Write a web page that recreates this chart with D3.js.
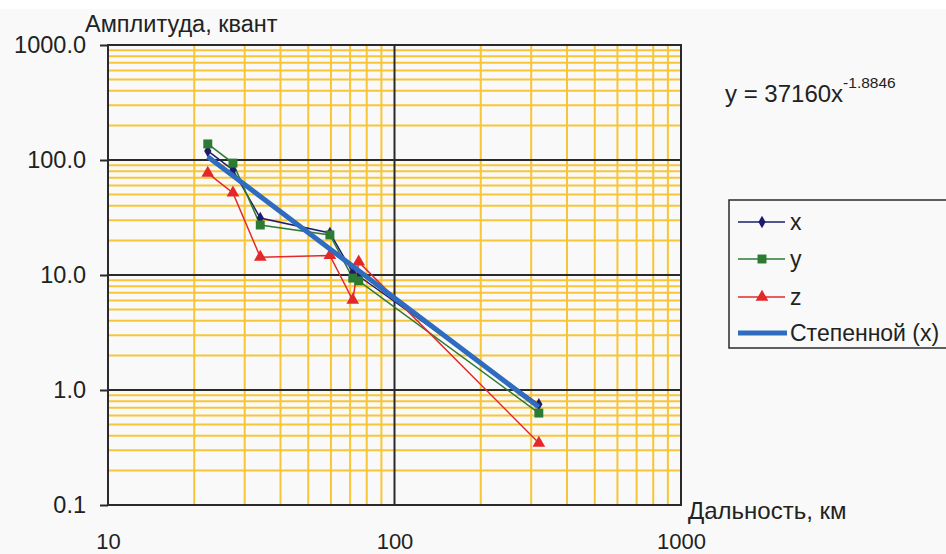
<!DOCTYPE html>
<html>
<head>
<meta charset="utf-8">
<script src="https://cdn.jsdelivr.net/npm/d3@7"></script>
<style>
  html, body { margin: 0; padding: 0; background: #ffffff; }
  svg { display: block; font-family: "Liberation Sans", Arial, sans-serif; }
</style>
</head>
<body>
<svg id="chart" width="946" height="554"></svg>
<script>
// ---- data ----
const distances = [22.3, 27.3, 34.0, 59.5, 71.5, 75.0, 319];
const seriesX = [120, 82, 31.3, 23.2, 10.5, 9.8, 0.75];
const seriesY = [138, 94, 27.2, 22.3, 9.4, 8.9, 0.63];
const seriesZ = [77, 51.7, 14.3, 14.8, 6.06, 13.0, 0.346];
const trendCoef = 37160;
const trendExp = -1.8846;
const yTickValues = [0.1, 1, 10, 100, 1000];
const xTickValues = [10, 100, 1000];
const legendLabels = ["x", "y", "z", "Степенной (x)"];
const yAxisTitle = "Амплитуда, квант";
const xAxisTitle = "Дальность, км";

(function () {
// ---- layout ----
const svg = d3.select("#chart");
const W = 946, H = 554;
const pL = 108, pR = 681, pT = 45, pB = 505;

svg.append("rect").attr("x", 0).attr("y", 0).attr("width", W).attr("height", H).attr("fill", "#ffffff");
svg.append("rect").attr("x", 0).attr("y", 9).attr("width", W).attr("height", H - 9).attr("fill", "#f9f9f9");

const x = d3.scaleLog().domain([10, 1000]).range([pL, pR]);
const y = d3.scaleLog().domain([0.1, 1000]).range([pB, pT]);

const gridColor = "#f8c537";
const majorColor = "#2a2a2a";

// minor grid values
const minorX = [], minorY = [];
[10, 100].forEach(d => { for (let m = 2; m <= 9; m++) minorX.push(d * m); });
[0.1, 1, 10, 100].forEach(d => { for (let m = 2; m <= 9; m++) minorY.push(d * m); });

const grid = svg.append("g");
grid.selectAll(".mx").data(minorX).enter().append("line")
  .attr("x1", d => x(d)).attr("x2", d => x(d)).attr("y1", pT).attr("y2", pB)
  .attr("stroke", gridColor).attr("stroke-width", 2);
grid.selectAll(".my").data(minorY).enter().append("line")
  .attr("y1", d => y(d)).attr("y2", d => y(d)).attr("x1", pL).attr("x2", pR)
  .attr("stroke", gridColor).attr("stroke-width", 2);
grid.selectAll(".Mx").data([100]).enter().append("line")
  .attr("x1", d => x(d)).attr("x2", d => x(d)).attr("y1", pT).attr("y2", pB)
  .attr("stroke", majorColor).attr("stroke-width", 2);
grid.selectAll(".My").data([1, 10, 100]).enter().append("line")
  .attr("y1", d => y(d)).attr("y2", d => y(d)).attr("x1", pL).attr("x2", pR)
  .attr("stroke", majorColor).attr("stroke-width", 2);

// plot border
svg.append("rect").attr("x", pL).attr("y", pT).attr("width", pR - pL).attr("height", pB - pT)
  .attr("fill", "none").attr("stroke", majorColor).attr("stroke-width", 2);

// axes
const yAxis = svg.append("g").attr("transform", `translate(${pL},0)`)
  .call(d3.axisLeft(y).tickValues(yTickValues).tickFormat(d3.format(".1f")).tickSize(8).tickPadding(14));
yAxis.select(".domain").remove();
yAxis.selectAll("line").attr("stroke", majorColor).attr("stroke-width", 2);
yAxis.selectAll("text").attr("font-size", 23.5).attr("fill", "#222").attr("font-family", "Liberation Sans, Arial, sans-serif");

const xAxis = svg.append("g").attr("transform", `translate(0,${pB})`)
  .call(d3.axisBottom(x).tickValues(xTickValues).tickFormat(d3.format("d")).tickSize(0).tickPadding(28));
xAxis.select(".domain").remove();
xAxis.selectAll("text").attr("font-size", 22).attr("fill", "#222").attr("font-family", "Liberation Sans, Arial, sans-serif");

svg.append("text").attr("x", 85).attr("y", 32).attr("font-size", 23.5).attr("fill", "#222").text(yAxisTitle);
svg.append("text").attr("x", 688).attr("y", 519).attr("font-size", 24).attr("fill", "#222").text(xAxisTitle);

// series
const series = [
  { vals: seriesX, color: "#1c1c6b", shape: d3.symbolDiamond, size: 45 },
  { vals: seriesY, color: "#2d7a32", shape: d3.symbolSquare, size: 80 },
  { vals: seriesZ, color: "#e3282a", shape: d3.symbolTriangle, size: 70 }
];
const line = d3.line().x(d => x(d[0])).y(d => y(d[1]));

series.forEach(s => {
  const pts = distances.map((d, i) => [d, s.vals[i]]);
  svg.append("path").datum(pts).attr("d", line).attr("fill", "none")
    .attr("stroke", s.color).attr("stroke-width", 1.5);
});
series.forEach(s => {
  const pts = distances.map((d, i) => [d, s.vals[i]]);
  svg.selectAll(null).data(pts).enter().append("path")
    .attr("d", d3.symbol().type(s.shape).size(s.size))
    .attr("transform", d => `translate(${x(d[0])},${y(d[1])})`)
    .attr("fill", s.color);
});

// trend line (power)
const tx0 = d3.min(distances), tx1 = d3.max(distances);
const trendPts = d3.range(0, 41).map(i => {
  const xv = tx0 * Math.pow(tx1 / tx0, i / 40);
  return [xv, trendCoef * Math.pow(xv, trendExp)];
});
svg.append("path").datum(trendPts).attr("d", line).attr("fill", "none")
  .attr("stroke", "#2f6cc0").attr("stroke-width", 5);

// equation
const eq = svg.append("text").attr("x", 725).attr("y", 102).attr("font-size", 24).attr("fill", "#222");
eq.append("tspan").text("y = " + trendCoef + "x");
eq.append("tspan").attr("font-size", 15.5).attr("dy", -14).text(String(trendExp));

// legend
const lg = svg.append("g");
lg.append("rect").attr("x", 729).attr("y", 200).attr("width", 230).attr("height", 148)
  .attr("fill", "#f9f9f9").attr("stroke", majorColor).attr("stroke-width", 1.5);
const legendY = [222, 259, 297, 333];
legendLabels.forEach((lab, i) => {
  const ly = legendY[i];
  if (i < 3) {
    const s = series[i];
    lg.append("line").attr("x1", 738).attr("x2", 785).attr("y1", ly).attr("y2", ly)
      .attr("stroke", s.color).attr("stroke-width", 1.5);
    lg.append("path").attr("d", d3.symbol().type(s.shape).size(s.size))
      .attr("transform", `translate(762,${ly})`).attr("fill", s.color);
  } else {
    lg.append("line").attr("x1", 738).attr("x2", 787).attr("y1", ly).attr("y2", ly)
      .attr("stroke", "#2f6cc0").attr("stroke-width", 5);
  }
  lg.append("text").attr("x", 790).attr("y", ly + 8).attr("font-size", 23).attr("fill", "#222").text(lab);
});
})();
</script>
</body>
</html>
